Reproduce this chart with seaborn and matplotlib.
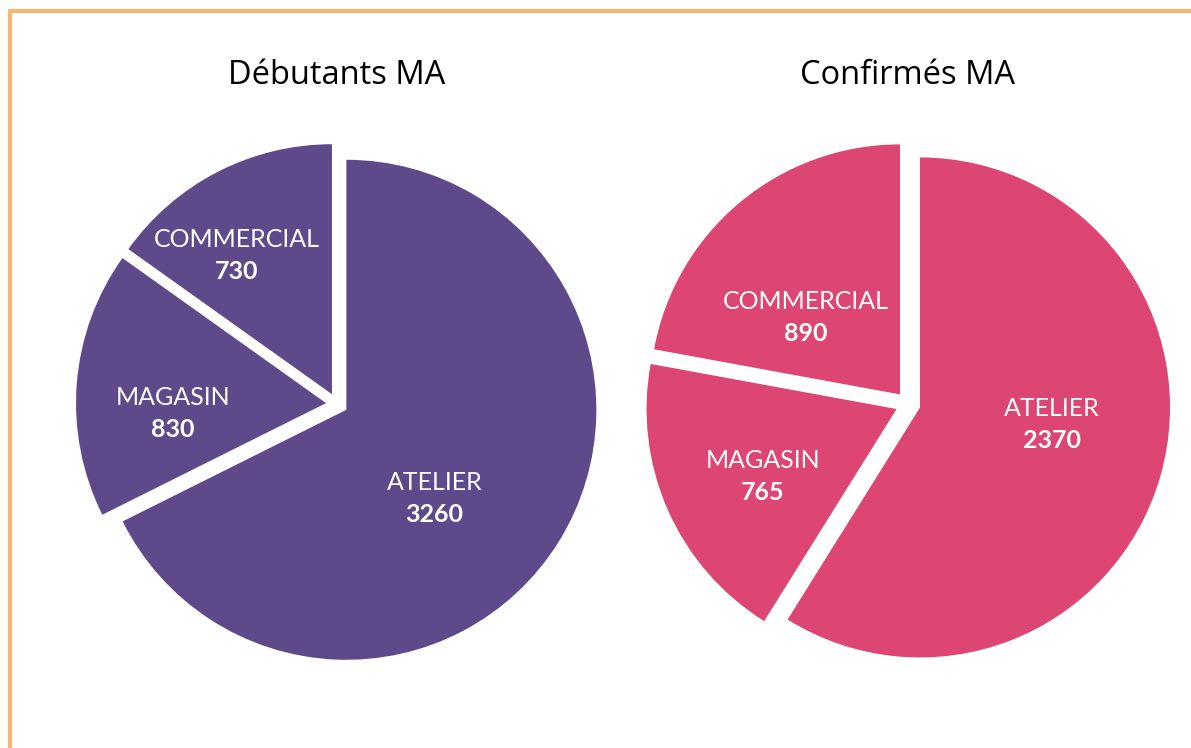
import matplotlib
matplotlib.use("Agg")
import matplotlib.pyplot as plt
from matplotlib.patches import Rectangle
import seaborn as sns

# data
categories = ["ATELIER", "MAGASIN", "COMMERCIAL"]
debutants_values = [3260, 830, 730]
confirmes_values = [2370, 765, 890]
titles = ["Débutants MA", "Confirmés MA"]
colors = ["#5E4A8B", "#DD4573"]

# label anchors (pie units, radius = 1), middle between name and value
debutants_label_pos = [(0.39, -0.376), (-0.656, -0.038), (-0.40, 0.594)]
confirmes_label_pos = [(0.576, -0.082), (-0.58, -0.292), (-0.408, 0.346)]

sns.set_theme(style="white")
plt.rcParams["font.family"] = ["Lato", "DejaVu Sans"]

W, H = 1191, 748
fig = plt.figure(figsize=(W / 100, H / 100), dpi=100)
fig.patch.set_facecolor("white")

# orange frame, open on right and bottom
fig.add_artist(Rectangle((9.5 / W, -0.1), 1.2, (H - 11.5) / H + 0.1,
                         transform=fig.transFigure, fill=False,
                         edgecolor="#F5B774", linewidth=3, clip_on=False))

half = 270
radius_px = 250


def draw_pie(cx, cy, values, title, color, label_pos, explode):
    ax = fig.add_axes([(cx - half) / W, (H - cy - half) / H, 2 * half / W, 2 * half / H])
    lim = half / radius_px
    ax.pie(values, startangle=90, counterclock=False, colors=[color] * len(values),
           explode=[explode] * len(values), radius=1,
           wedgeprops=dict(linewidth=0))
    ax.set_xlim(-lim, lim)
    ax.set_ylim(-lim, lim)
    ax.set_aspect("equal")
    ax.axis("off")
    for cat, val, (x, y) in zip(categories, values, label_pos):
        ax.text(x, y + 0.064, cat, ha="center", va="center", color="white", fontsize=18)
        ax.text(x, y - 0.064, f"{val}", ha="center", va="center", color="white",
                fontsize=18, fontweight="bold")
    fig.text(cx / W, 1 - 75 / H, title, ha="center", va="center", fontsize=23.5,
             family=["Open Sans", "DejaVu Sans"], color="black")


draw_pie(337, 404, debutants_values, titles[0], colors[0], debutants_label_pos, 0.044)
draw_pie(908, 404, confirmes_values, titles[1], colors[1], confirmes_label_pos, 0.05)

fig.savefig("out.png", dpi=100, facecolor="white")
